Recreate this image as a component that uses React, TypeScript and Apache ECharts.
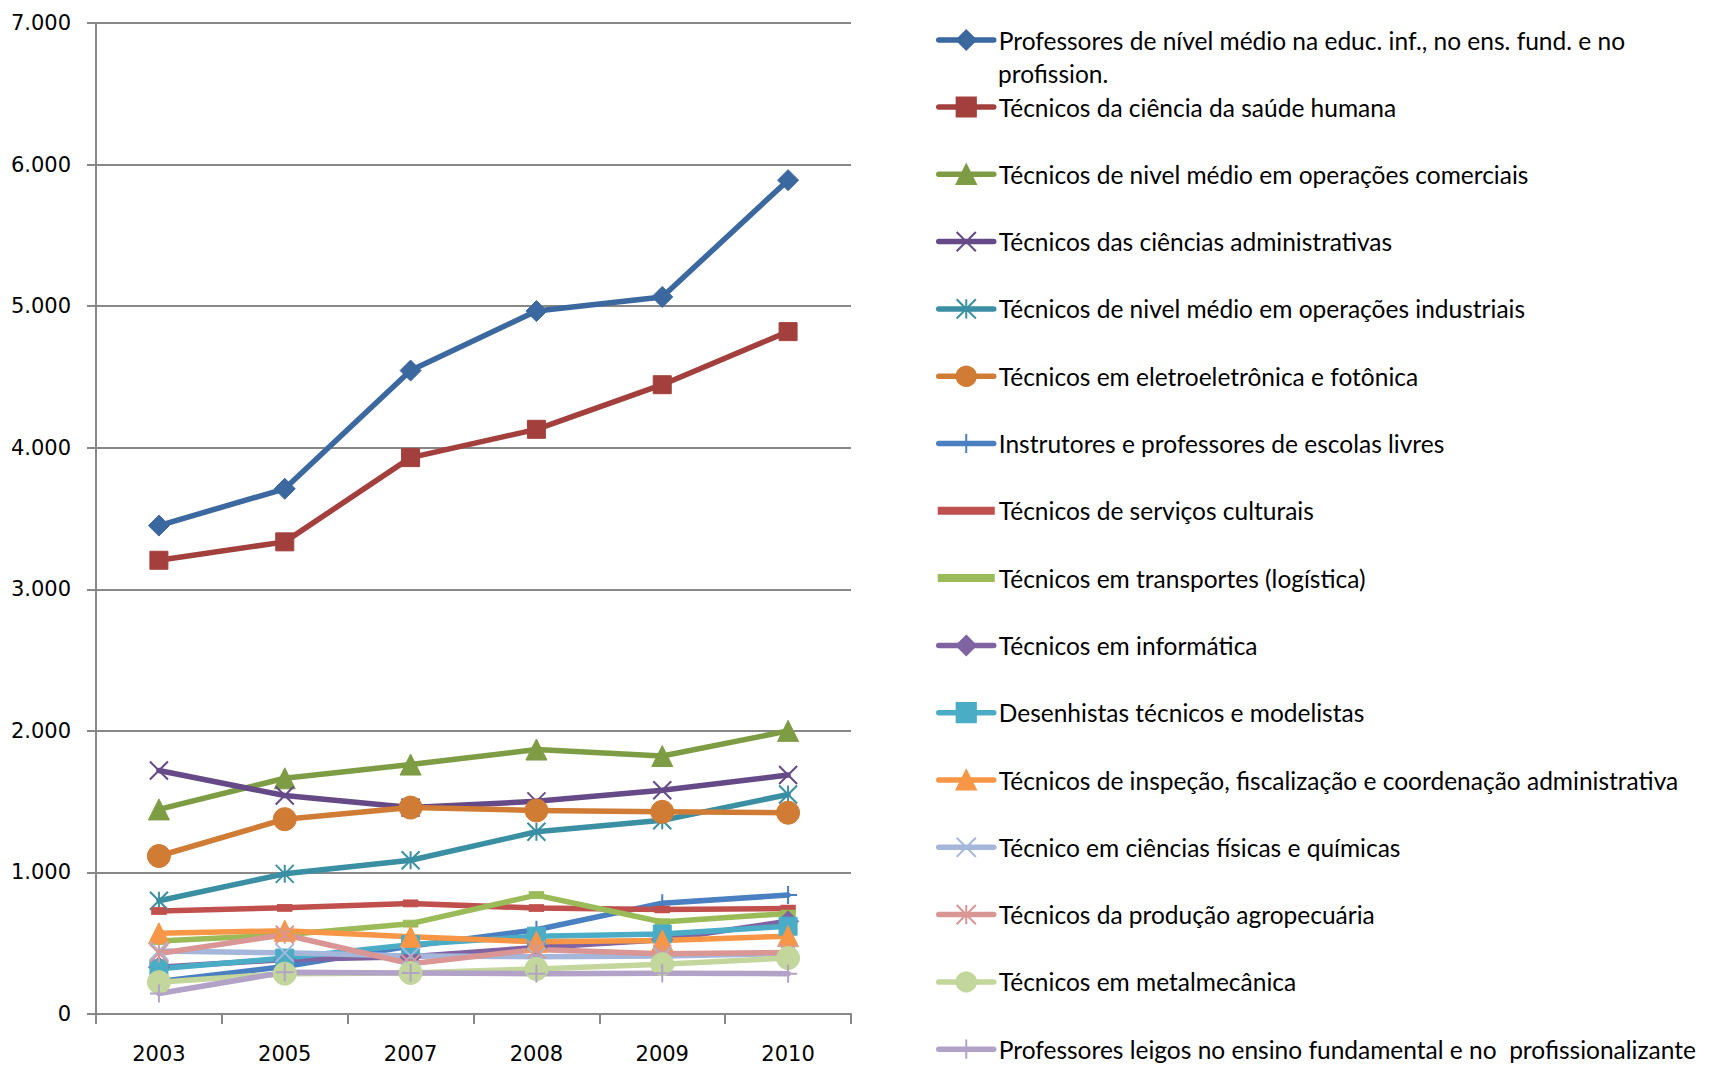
import React, { useEffect, useRef } from "react";
import * as echarts from "echarts";

const years = ["2003", "2005", "2007", "2008", "2009", "2010"];
const yTickLabels = ["0", "1.000", "2.000", "3.000", "4.000", "5.000", "6.000", "7.000"];

const names = [
  "Professores de nível médio na educ. inf., no ens. fund. e no profission.",
  "Técnicos da ciência da saúde humana",
  "Técnicos de nivel médio em operações comerciais",
  "Técnicos das ciências administrativas",
  "Técnicos de nivel médio em operações industriais",
  "Técnicos em eletroeletrônica e fotônica",
  "Instrutores e professores de escolas livres",
  "Técnicos de serviços culturais",
  "Técnicos em transportes (logística)",
  "Técnicos em informática",
  "Desenhistas técnicos e modelistas",
  "Técnicos de inspeção, fiscalização e coordenação administrativa",
  "Técnico em ciências físicas e químicas",
  "Técnicos da produção agropecuária",
  "Técnicos em metalmecânica",
  "Professores leigos no ensino fundamental e no  profissionalizante",
];
const firstNameLine1 = "Professores de nível médio na educ. inf., no ens. fund. e no";
const firstNameLine2 = "profission.";

const profNivelMedio = [3450, 3710, 4545, 4965, 5065, 5890];
const saudeHumana = [3205, 3335, 3930, 4130, 4445, 4820];
const opComerciais = [1445, 1665, 1762, 1868, 1822, 2000];
const cienciasAdm = [1720, 1543, 1458, 1502, 1580, 1688];
const opIndustriais = [800, 990, 1086, 1287, 1368, 1550];
const eletroFotonica = [1116, 1376, 1458, 1438, 1428, 1422];
const instrutores = [230, 335, 480, 595, 783, 840];
const servCulturais = [727, 750, 781, 748, 738, 745];
const transportes = [515, 560, 638, 840, 650, 710];
const informatica = [330, 385, 405, 470, 525, 655];
const desenhistas = [320, 395, 490, 550, 565, 620];
const inspecao = [570, 588, 545, 510, 520, 550];
const cienciasFisicas = [445, 432, 410, 405, 410, 428];
const agropecuaria = [428, 560, 355, 455, 425, 435];
const metalmecanica = [225, 285, 290, 318, 352, 395];
const professoresLeigos = [145, 295, 290, 285, 288, 285];

const seriesValues = [
  profNivelMedio, saudeHumana, opComerciais, cienciasAdm, opIndustriais, eletroFotonica,
  instrutores, servCulturais, transportes, informatica, desenhistas, inspecao,
  cienciasFisicas, agropecuaria, metalmecanica, professoresLeigos,
];

const colors = [
  "#3C68A0", "#A3403D", "#7E9C44", "#654A87", "#3A8FA3", "#D07C34",
  "#4A7FC1", "#C0504D", "#9BBB59", "#8064A2", "#4BACC6", "#F79646",
  "#A4B7DB", "#D99694", "#C3D69B", "#B3A2C7",
];

const X_PATH = "path://M0,0L20,20M20,0L0,20";
const STAR_PATH = "path://M0,0L20,20M20,0L0,20M10,0L10,20";
const PLUS_PATH = "path://M10,0L10,20M0,10L20,10";
const DASH = "dash";

const markers = [
  "diamond", "rect", "triangle", X_PATH, STAR_PATH, "circle", PLUS_PATH, DASH, DASH,
  "diamond", "rect", "triangle", X_PATH, STAR_PATH, "circle", PLUS_PATH,
];

function markerSize(m: string): number | number[] {
  if (m === "diamond") return 21;
  if (m === "rect") return 18;
  if (m === "triangle") return 21;
  if (m === "circle") return 23;
  if (m === DASH) return [14, 7];
  return 18;
}

export default function App() {
  const ref = useRef<HTMLDivElement>(null);
  useEffect(() => {
    document.body.style.margin = "0";
    const chart = echarts.init(ref.current!, null, { renderer: "svg" });
    const fontLegend = "Lato";
    const legendFontSize = 24.5;
    const legendLeft = 936;
    const series = names.map((name, i) => {
      const m = markers[i];
      const isLineGlyph = m.startsWith("path://");
      return {
        name,
        type: "line",
        data: seriesValues[i],
        symbol: m === DASH ? "rect" : m,
        symbolSize: markerSize(m),
        showSymbol: true,
        lineStyle: { color: colors[i], width: 5.5, cap: "round", join: "round" },
        itemStyle: {
          color: colors[i],
          borderColor: colors[i],
          borderWidth: isLineGlyph ? 2 : 1,
        },
        emphasis: { disabled: true },
        z: 2,
      };
    });

    const dashIcon = "path://M0,0H55V6H0Z";
    const legendLine = { width: 5.5, cap: "round" };

    chart.setOption({
      animation: false,
      backgroundColor: "#ffffff",
      grid: { left: 96, right: 859, top: 23, bottom: 52, containLabel: false, outerBoundsMode: "none" },
      xAxis: {
        type: "category",
        data: years,
        boundaryGap: true,
        axisLine: { show: true, lineStyle: { color: "#878787", width: 2 } },
        axisTick: { show: true, alignWithLabel: false, length: 10, lineStyle: { color: "#878787", width: 2 } },
        axisLabel: { color: "#000", fontFamily: "DejaVu Sans", fontSize: 21, margin: 29 },
        splitLine: { show: false },
      },
      yAxis: {
        type: "value",
        min: 0,
        max: 7000,
        interval: 1000,
        axisLine: { show: true, lineStyle: { color: "#878787", width: 2 } },
        axisTick: { show: true, length: 9, lineStyle: { color: "#878787", width: 2 } },
        axisLabel: {
          color: "#000",
          fontFamily: "DejaVu Sans",
          fontSize: 21,
          margin: 25,
          formatter: (v: number) => yTickLabels[Math.round(v / 1000)] ?? String(v),
        },
        splitLine: { show: true, lineStyle: { color: "#878787", width: 2 } },
      },
      legend: [
        {
          orient: "vertical",
          left: legendLeft,
          top: 25,
          padding: 0,
          itemWidth: 55,
          itemHeight: 24,
          selectedMode: false,
          lineStyle: legendLine,
          data: [names[0]],
          formatter: () => firstNameLine1,
          textStyle: { fontFamily: fontLegend, fontSize: legendFontSize, color: "#000", lineHeight: 30 },
        },
        {
          orient: "vertical",
          left: legendLeft,
          top: 92,
          padding: 0,
          itemWidth: 55,
          itemHeight: 24,
          itemGap: 37.3,
          selectedMode: false,
          lineStyle: legendLine,
          data: names.slice(1).map((n, k) =>
            markers[k + 1] === DASH ? { name: n, icon: dashIcon } : { name: n }
          ),
          textStyle: { fontFamily: fontLegend, fontSize: legendFontSize, color: "#000", lineHeight: 30 },
        },
      ],
      graphic: [
        {
          type: "text",
          x: legendLeft + 62,
          y: 73,
          silent: true,
          style: {
            text: firstNameLine2,
            fontFamily: fontLegend,
            fontSize: legendFontSize,
            fill: "#000",
            verticalAlign: "middle",
            align: "left",
          },
        },
      ],
      series,
    });
    return () => chart.dispose();
  }, []);
  return <div ref={ref} style={{ width: 1710, height: 1066 }} />;
}
